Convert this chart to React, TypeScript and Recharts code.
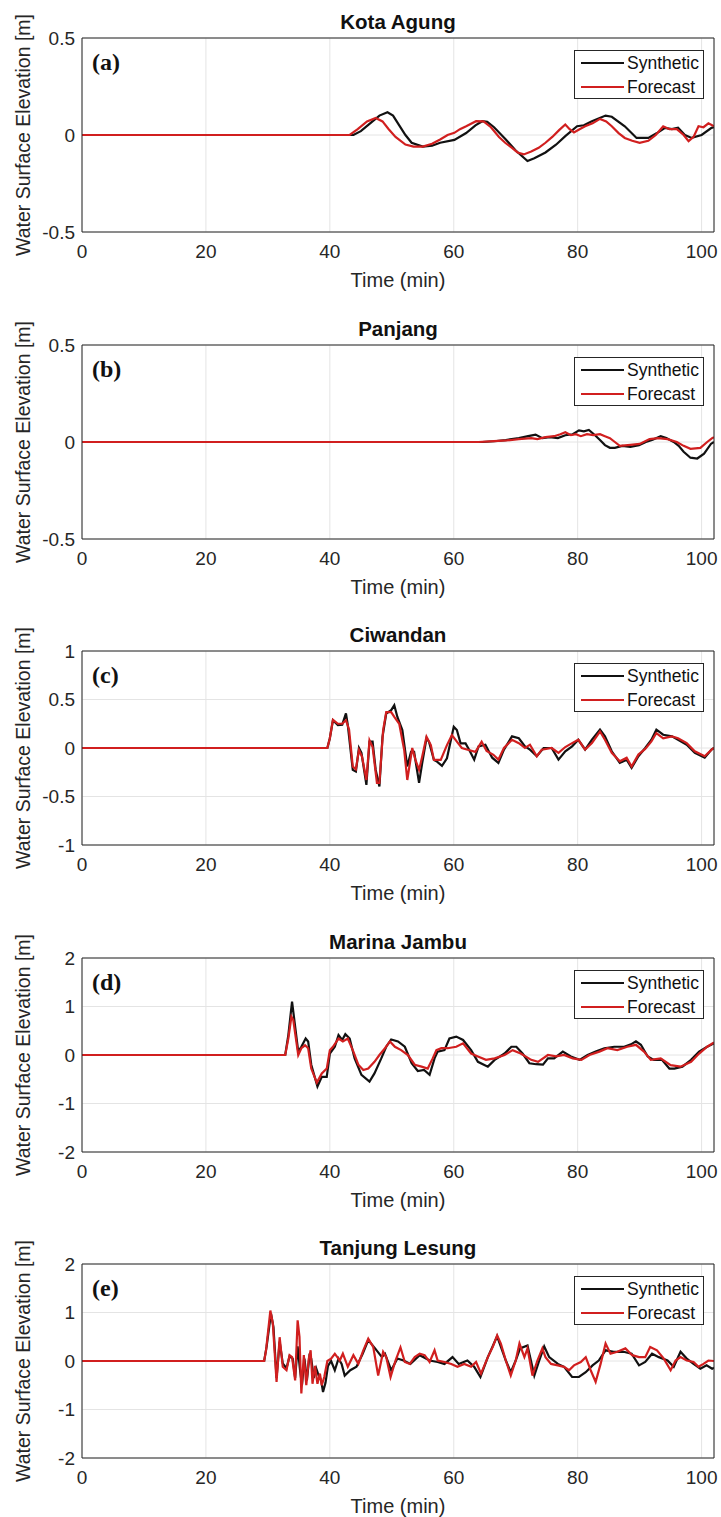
import { LineChart, Line, XAxis, YAxis, CartesianGrid } from "recharts";

// [time (min), elevation (m)] pairs
type Pt = [number, number];

const kotaAgungSynthetic: Pt[] = [
  [0, 0], [43.8, 0], [45, 0.02], [46.5, 0.06], [48, 0.1], [49.3, 0.117], [50.2, 0.1], [51.2, 0.05],
  [52.2, 0], [53.2, -0.04], [55, -0.06], [56.5, -0.055], [57.8, -0.04], [60.1, -0.025], [62, 0.01],
  [63.5, 0.05], [64.6, 0.071], [65.4, 0.068], [66.5, 0.04], [68.4, -0.023], [70, -0.08], [71.9, -0.134],
  [73, -0.12], [74.8, -0.09], [76.5, -0.05], [78, -0.006], [79.9, 0.045], [81, 0.05], [82.3, 0.071],
  [84.5, 0.1], [85.5, 0.094], [87.6, 0.045], [89.5, -0.015], [91.4, -0.015], [92.8, 0.01], [94.1, 0.037],
  [95.2, 0.03], [96.2, 0.037], [97.3, 0], [98.4, -0.015], [100, 0], [101.6, 0.037], [102, 0.04],
];
const kotaAgungForecast: Pt[] = [
  [0, 0], [43.2, 0], [44.5, 0.03], [46, 0.07], [47.4, 0.088], [48.5, 0.07], [49.5, 0.03], [50.6, -0.01],
  [52.2, -0.049], [53.5, -0.06], [55, -0.06], [56.5, -0.045], [57.8, -0.023], [59, 0], [60.1, 0.011],
  [61, 0.03], [62, 0.045], [63.6, 0.071], [64.8, 0.07], [66, 0.04], [67.3, -0.01], [68.3, -0.04],
  [69.4, -0.066], [70.3, -0.09], [71.3, -0.1], [72.5, -0.085], [73.7, -0.066], [74.8, -0.04], [75.9, -0.01],
  [77, 0.025], [78, 0.054], [78.7, 0.03], [79.4, 0.013], [80.3, 0.03], [81.2, 0.045], [82.4, 0.06],
  [83.6, 0.083], [84.6, 0.07], [85.5, 0.045], [86.6, 0.01], [87.6, -0.015], [88.8, -0.03], [90, -0.04],
  [91.4, -0.03], [92.6, 0], [93.8, 0.045], [94.8, 0.03], [96, 0.03], [97.1, 0], [97.9, -0.032],
  [98.7, -0.01], [99.5, 0.045], [100.3, 0.04], [101.1, 0.06], [102, 0.045],
];

const panjangSynthetic: Pt[] = [
  [0, 0], [64.6, 0], [66.5, 0.004], [68.4, 0.01], [70.5, 0.02], [72, 0.03], [73.2, 0.038], [74.3, 0.02],
  [75.5, 0.025], [76.8, 0.02], [78, 0.035], [79.2, 0.04], [80.2, 0.06], [81, 0.055], [81.8, 0.062],
  [82.8, 0.035], [83.6, 0.01], [84.4, -0.016], [85.2, -0.03], [86, -0.03], [87.2, -0.02], [88.5, -0.025],
  [89.9, -0.016], [91, 0], [92, 0.01], [93.4, 0.03], [94.3, 0.02], [95.5, 0], [96.3, -0.02], [97.1, -0.05],
  [98.2, -0.081], [99.3, -0.085], [100.4, -0.06], [101.5, -0.01], [102, 0],
];
const panjangForecast: Pt[] = [
  [0, 0], [64, 0], [66.5, 0.005], [68.5, 0.008], [70.5, 0.015], [72.5, 0.02], [73.5, 0.015], [74.8, 0.025],
  [76.2, 0.03], [77.2, 0.04], [78, 0.05], [78.9, 0.035], [79.7, 0.04], [80.5, 0.03], [81.5, 0.04],
  [82.5, 0.035], [83.6, 0.04], [84.4, 0.03], [85.2, 0.02], [86, 0], [86.8, -0.02], [88.5, -0.015],
  [90, -0.01], [91.6, 0.015], [93, 0.02], [94.5, 0.015], [96, 0], [97.1, -0.02], [98.2, -0.035],
  [99.8, -0.03], [100.9, 0], [101.7, 0.02], [102, 0.025],
];

const ciwandanSynthetic: Pt[] = [
  [0, 0], [39.6, 0], [40, 0.1], [40.5, 0.287], [41.3, 0.236], [42, 0.24], [42.6, 0.356], [42.9, 0.236],
  [43.7, -0.226], [44.2, -0.243], [44.7, 0], [45.1, -0.05], [45.9, -0.38], [46.4, 0.065], [46.9, 0.065],
  [47.4, -0.226], [48, -0.397], [48.5, 0.116], [49.1, 0.356], [49.9, 0.39], [50.4, 0.44], [50.9, 0.32],
  [51.7, 0.185], [52.5, -0.19], [53.1, -0.04], [53.6, -0.04], [54.4, -0.36], [54.9, -0.157], [55.6, 0.1],
  [56, 0.065], [56.8, -0.123], [57.3, -0.14], [58.1, -0.185], [58.9, -0.106], [60, 0.219], [60.5, 0.185],
  [61.1, 0.048], [61.9, 0.048], [62.5, -0.02], [63.3, -0.12], [64, 0.017], [65.1, 0.034], [66.2, -0.1],
  [67.2, -0.154], [68.1, -0.017], [69.4, 0.12], [70.5, 0.1], [71.5, 0.017], [72.3, -0.017], [73.4, -0.085],
  [74.5, 0], [75.8, 0], [76.9, -0.12], [78, -0.034], [79.1, 0.017], [80.1, 0.085], [81.2, -0.017],
  [82.3, 0.085], [83.6, 0.19], [84.4, 0.12], [85.5, -0.034], [86.8, -0.154], [87.9, -0.12], [88.7, -0.205],
  [89.8, -0.085], [90.9, 0], [91.9, 0.085], [92.7, 0.19], [93.8, 0.137], [95.2, 0.12], [96.2, 0.085],
  [97.6, 0.034], [98.9, -0.05], [100.5, -0.1], [101.6, -0.017], [102, 0],
];
const ciwandanForecast: Pt[] = [
  [0, 0], [39.6, 0], [40, 0.1], [40.5, 0.29], [41.3, 0.25], [42, 0.25], [42.6, 0.287], [43.1, 0.19],
  [43.7, -0.19], [44.2, -0.22], [44.7, -0.02], [45.2, -0.09], [45.9, -0.33], [46.4, 0.08], [46.9, 0.01],
  [47.6, -0.36], [48, -0.36], [48.6, 0.185], [49.1, 0.37], [49.9, 0.37], [50.4, 0.32], [51.2, 0.25],
  [52, -0.02], [52.5, -0.33], [53.3, 0], [53.8, -0.12], [54.4, -0.226], [54.9, -0.09], [55.6, 0.116],
  [56.3, 0.03], [56.8, -0.123], [57.9, -0.123], [58.9, 0.03], [59.7, 0.133], [60.5, 0.065], [61.3, 0],
  [62.4, -0.02], [63.5, -0.04], [64.5, 0.065], [65.3, -0.03], [66.4, -0.07], [67.2, -0.12], [68.1, 0],
  [69.4, 0.085], [70.5, 0.05], [71.5, 0], [72.3, 0.034], [73.4, -0.085], [74.2, -0.017], [75.8, 0],
  [76.9, -0.05], [78, 0.01], [79.1, 0.05], [80.1, 0.085], [81.2, -0.017], [82.3, 0.05], [83.6, 0.17],
  [84.4, 0.085], [85.5, -0.05], [86.8, -0.137], [87.9, -0.1], [88.7, -0.19], [89.8, -0.068], [90.9, -0.01],
  [91.9, 0.068], [92.7, 0.154], [93.8, 0.1], [95.2, 0.12], [96.2, 0.1], [97.6, 0.05], [98.9, -0.034],
  [100.5, -0.085], [101.6, -0.017], [102, 0],
];

const marinaJambuSynthetic: Pt[] = [
  [0, 0], [32.8, 0], [33.3, 0.41], [33.9, 1.1], [34.3, 0.69], [34.9, 0.07], [35.4, 0.17], [36.1, 0.34],
  [36.5, 0.28], [37, -0.2], [38, -0.65], [38.7, -0.45], [39.5, -0.45], [40, 0.03], [40.8, 0.17],
  [41.4, 0.41], [42, 0.31], [42.5, 0.43], [43.2, 0.34], [44, -0.07], [45.1, -0.41], [46.4, -0.55],
  [47.2, -0.38], [48.3, -0.07], [49.1, 0.17], [49.9, 0.32], [51, 0.28], [52.1, 0.17], [53.2, -0.17],
  [54.2, -0.33], [55.2, -0.31], [56.1, -0.41], [56.9, -0.07], [57.4, 0.07], [58.5, 0.1], [59.3, 0.34],
  [60.4, 0.38], [61.5, 0.31], [62.8, 0.1], [63.9, -0.14], [65.5, -0.24], [66.6, -0.1], [68.2, 0.03],
  [69.3, 0.17], [70.1, 0.17], [71.1, 0.03], [72.2, -0.17], [73.3, -0.19], [74.4, -0.2], [75.2, -0.07],
  [76.2, -0.07], [77.6, 0.07], [78.9, -0.03], [80.3, -0.1], [81.6, 0], [82.9, 0.07], [84.3, 0.14],
  [85.9, 0.17], [87.5, 0.17], [88.6, 0.22], [89.4, 0.28], [90.2, 0.21], [91.3, -0.03], [92.3, -0.1],
  [93.6, -0.1], [94.8, -0.28], [95.6, -0.28], [96.9, -0.24], [98.3, -0.1], [99.6, 0.07], [100.9, 0.17],
  [102, 0.24],
];
const marinaJambuForecast: Pt[] = [
  [0, 0], [32.8, 0], [33.3, 0.34], [33.8, 0.79], [34.1, 0.72], [34.9, 0], [35.4, 0.14], [36, 0.2],
  [36.5, 0.14], [37, -0.28], [37.9, -0.57], [38.7, -0.38], [39.5, -0.28], [40, 0.1], [40.5, 0.17],
  [41.4, 0.34], [42.1, 0.28], [42.9, 0.34], [43.8, 0.07], [44.6, -0.2], [45.4, -0.31], [46.2, -0.28],
  [47.2, -0.14], [48, 0], [48.9, 0.14], [49.7, 0.28], [50.5, 0.17], [51.5, 0.1], [52.6, 0], [53.7, -0.2],
  [54.8, -0.24], [55.8, -0.28], [56.6, -0.07], [57.2, 0.1], [58, 0.14], [59, 0.14], [60.4, 0.17],
  [61.5, 0.24], [62.8, 0.03], [63.9, -0.03], [65.2, -0.1], [66.6, -0.07], [68.2, 0], [69.5, 0.1],
  [70.8, 0.03], [72.5, -0.1], [73.6, -0.14], [75.2, 0], [76.5, -0.03], [77.8, 0], [79.2, -0.07],
  [80.6, -0.1], [81.9, 0], [83.5, 0.07], [84.8, 0.14], [86.4, 0.1], [88, 0.17], [89.4, 0.21], [90.7, 0.07],
  [91.8, -0.1], [93.4, -0.07], [95, -0.21], [96.6, -0.24], [98.3, -0.14], [99.6, 0.03], [100.9, 0.17],
  [102, 0.26],
];

const tanjungLesungSynthetic: Pt[] = [
  [0, 0], [29.4, 0], [29.8, 0.3], [30.5, 0.98], [30.9, 0.7], [31.4, -0.35], [31.9, 0.4], [32.4, -0.05],
  [33, -0.15], [33.5, 0.1], [34, 0.05], [34.4, -0.35], [34.8, 0.3], [35.2, -0.2], [35.5, -0.5],
  [35.9, 0.05], [36.3, -0.4], [36.7, 0.1], [37, 0.05], [37.4, -0.35], [37.8, -0.15], [38.2, -0.3],
  [38.6, -0.4], [38.9, -0.64], [39.3, -0.45], [39.7, -0.1], [40.2, 0], [40.8, -0.19], [41.4, 0.05],
  [41.9, -0.06], [42.4, -0.3], [43.3, -0.19], [44.3, -0.12], [45.3, 0.15], [46.2, 0.43], [47.3, 0.26],
  [48.4, 0.08], [48.9, 0.15], [49.9, -0.19], [50.9, 0.05], [51.9, 0.01], [53, -0.06], [54.5, 0.12],
  [56.1, 0.01], [57.4, -0.02], [58.5, -0.06], [59.8, 0.08], [60.8, -0.06], [62.2, 0.01], [63.3, -0.12],
  [64.3, -0.33], [65.5, 0.08], [67, 0.51], [68.4, 0.01], [69.2, -0.23], [70, 0.01], [70.7, 0.26],
  [71.9, 0.32], [73, -0.3], [73.8, 0.01], [74.6, 0.3], [75.4, 0.08], [76.8, -0.06], [77.8, -0.12],
  [79.1, -0.33], [80.2, -0.33], [81.3, -0.23], [82.4, -0.09], [83.4, 0.01], [84.5, 0.22], [85.8, 0.19],
  [87.4, 0.19], [88.7, 0.15], [89.9, -0.09], [90.9, -0.02], [92, 0.15], [93.1, 0.08], [94.5, 0.01],
  [95.5, -0.12], [96.6, 0.19], [97.6, 0.05], [98.7, -0.06], [99.8, -0.16], [100.8, -0.09], [101.7, -0.16],
  [102, -0.14],
];
const tanjungLesungForecast: Pt[] = [
  [0, 0], [29.4, 0], [29.7, 0.22], [30.4, 1.04], [30.8, 0.77], [31.4, -0.43], [31.9, 0.49], [32.4, -0.12],
  [33, -0.19], [33.5, 0.12], [33.9, 0.08], [34.4, -0.4], [34.8, 0.84], [35.1, 0.5], [35.4, -0.67],
  [35.8, 0.12], [36.2, -0.5], [36.6, 0.05], [36.9, 0.22], [37.2, -0.47], [37.6, -0.1], [38, -0.47],
  [38.4, -0.26], [38.7, -0.5], [39.1, -0.33], [39.6, 0], [40.2, 0.05], [40.8, 0.15], [41.6, 0.01],
  [42.1, 0.15], [42.9, -0.12], [43.8, 0.12], [44.6, -0.06], [45.4, 0.22], [46.2, 0.46], [47, 0.29],
  [47.8, -0.3], [48.6, 0.19], [49.1, 0.08], [49.8, -0.33], [50.6, 0.01], [51.4, 0.28], [52.1, -0.02],
  [52.9, -0.06], [53.7, 0.08], [54.5, 0.15], [55.3, 0.12], [56.1, -0.02], [56.9, 0.22], [57.4, 0.01],
  [58.5, -0.02], [59.6, -0.06], [60.6, -0.12], [61.7, -0.06], [62.8, -0.12], [63.6, -0.02], [64.4, -0.26],
  [65.5, 0.08], [66.3, 0.29], [67, 0.53], [67.6, 0.36], [68.4, 0.01], [69.2, -0.3], [70, 0.01], [70.6, 0.36],
  [71.4, 0.08], [71.9, 0.26], [72.7, -0.3], [73.5, 0.01], [74.3, 0.26], [74.8, 0.08], [75.7, -0.06],
  [76.8, -0.09], [77.8, -0.12], [78.6, -0.19], [79.4, -0.09], [80.5, -0.02], [81.3, 0.08], [82.1, -0.19],
  [82.9, -0.43], [83.7, -0.06], [84.5, 0.36], [85.3, 0.15], [86.4, 0.19], [87.7, 0.26], [88.8, 0.12],
  [89.9, 0.08], [90.9, 0.08], [91.7, 0.29], [92.8, 0.22], [93.9, 0.05], [95, -0.19], [95.8, 0.01],
  [96.6, 0.08], [97.6, 0.01], [98.7, -0.02], [99.5, -0.12], [100.3, -0.06], [101.1, 0.01], [102, 0],
];

const timeTicks = [0, 20, 40, 60, 80, 100];
const ticksHalf = [-0.5, 0, 0.5];
const ticksOne = [-1, -0.5, 0, 0.5, 1];
const ticksTwo = [-2, -1, 0, 1, 2];

const stationNames = ["Kota Agung", "Panjang", "Ciwandan", "Marina Jambu", "Tanjung Lesung"];
const panelLetters = ["(a)", "(b)", "(c)", "(d)", "(e)"];

const panels = [
  { yMax: 0.5, yTicks: ticksHalf, synthetic: kotaAgungSynthetic, forecast: kotaAgungForecast },
  { yMax: 0.5, yTicks: ticksHalf, synthetic: panjangSynthetic, forecast: panjangForecast },
  { yMax: 1, yTicks: ticksOne, synthetic: ciwandanSynthetic, forecast: ciwandanForecast },
  { yMax: 2, yTicks: ticksTwo, synthetic: marinaJambuSynthetic, forecast: marinaJambuForecast },
  { yMax: 2, yTicks: ticksTwo, synthetic: tanjungLesungSynthetic, forecast: tanjungLesungForecast },
];

const SANS = '"Liberation Sans", Arial, sans-serif';
const AXIS_COLOR = "#262626";
const BLACK = "#111111";
const RED = "#d11f1f";

const W = 721;
const PANEL_H = 307;
const PITCH = 306.5;
const PLOT_TOP = 38;
const PLOT_H = 194;
const PLOT_LEFT = 82;
const PLOT_RIGHT = 714;

const toRows = (pts: Pt[]) => pts.map(([t, v]) => ({ t, v }));

function LegendBox() {
  const row = (label: string, color: string) => (
    <div style={{ display: "flex", alignItems: "center", height: 24 }}>
      <div style={{ width: 43, height: 2.5, background: color, marginLeft: 6, marginRight: 3 }} />
      <span>{label}</span>
    </div>
  );
  return (
    <div
      style={{
        position: "absolute",
        left: 574,
        top: PLOT_TOP + 12,
        width: 128,
        height: 47,
        border: `1px solid ${AXIS_COLOR}`,
        background: "#fff",
        fontFamily: SANS,
        fontSize: 17.5,
        color: "#111",
        lineHeight: "24px",
      }}
    >
      {row("Synthetic", BLACK)}
      {row("Forecast", RED)}
    </div>
  );
}

function StationPanel({ index }: { index: number }) {
  const p = panels[index];
  const top = Math.round(index * PITCH);
  return (
    <div style={{ position: "absolute", left: 0, top, width: W, height: PANEL_H }}>
      <LineChart
        width={W}
        height={PANEL_H}
        margin={{ top: PLOT_TOP, right: W - PLOT_RIGHT, bottom: PANEL_H - PLOT_TOP - PLOT_H - 30, left: PLOT_LEFT - 40 }}
      >
        <CartesianGrid stroke="#e4e4e4" strokeWidth={1} />
        <XAxis
          dataKey="t"
          type="number"
          domain={[0, 102]}
          ticks={timeTicks}
          allowDataOverflow
          height={30}
          tickLine={false}
          tickSize={0}
          tickMargin={13}
          axisLine={{ stroke: AXIS_COLOR }}
          tick={{ fill: AXIS_COLOR, fontSize: 19, fontFamily: SANS }}
        />
        <XAxis
          xAxisId="top"
          orientation="top"
          type="number"
          domain={[0, 102]}
          ticks={timeTicks}
          mirror
          tick={false}
          tickSize={5}
          tickLine={{ stroke: AXIS_COLOR }}
          axisLine={{ stroke: AXIS_COLOR }}
        />
        <YAxis
          type="number"
          domain={[-p.yMax, p.yMax]}
          ticks={p.yTicks}
          allowDataOverflow
          width={40}
          tickLine={false}
          tickSize={0}
          tickMargin={7}
          axisLine={{ stroke: AXIS_COLOR }}
          tick={{ fill: AXIS_COLOR, fontSize: 19, fontFamily: SANS }}
        />
        <YAxis
          yAxisId="right"
          orientation="right"
          type="number"
          domain={[-p.yMax, p.yMax]}
          ticks={p.yTicks}
          mirror
          tick={false}
          tickSize={5}
          tickLine={{ stroke: AXIS_COLOR }}
          axisLine={{ stroke: AXIS_COLOR }}
        />
        <Line
          data={toRows(p.synthetic)}
          dataKey="v"
          type="linear"
          stroke={BLACK}
          strokeWidth={2.2}
          dot={false}
          isAnimationActive={false}
        />
        <Line
          data={toRows(p.forecast)}
          dataKey="v"
          type="linear"
          stroke={RED}
          strokeWidth={2.2}
          dot={false}
          isAnimationActive={false}
        />
      </LineChart>

      {/* title */}
      <div
        style={{
          position: "absolute",
          left: PLOT_LEFT,
          width: PLOT_RIGHT - PLOT_LEFT,
          top: 11,
          textAlign: "center",
          fontFamily: SANS,
          fontWeight: "bold",
          fontSize: 20.5,
          lineHeight: "22px",
          color: "#111",
        }}
      >
        {stationNames[index]}
      </div>

      {/* panel letter */}
      <div
        style={{
          position: "absolute",
          left: 92,
          top: PLOT_TOP + 11,
          fontFamily: '"Liberation Serif", "Times New Roman", serif',
          fontWeight: "bold",
          fontSize: 24,
          lineHeight: "26px",
          color: "#111",
        }}
      >
        {panelLetters[index]}
      </div>

      {/* y axis label */}
      <div
        style={{
          position: "absolute",
          left: 23 - 150,
          top: PLOT_TOP + PLOT_H / 2 - 11,
          width: 300,
          height: 22,
          lineHeight: "22px",
          textAlign: "center",
          transform: "rotate(-90deg)",
          fontFamily: SANS,
          fontSize: 19.5,
          color: AXIS_COLOR,
          whiteSpace: "nowrap",
        }}
      >
        Water Surface Elevation [m]
      </div>

      {/* x axis label */}
      <div
        style={{
          position: "absolute",
          left: PLOT_LEFT,
          width: PLOT_RIGHT - PLOT_LEFT,
          top: PLOT_TOP + PLOT_H + 37,
          textAlign: "center",
          fontFamily: SANS,
          fontSize: 20,
          lineHeight: "22px",
          color: AXIS_COLOR,
        }}
      >
        Time (min)
      </div>

      <LegendBox />
    </div>
  );
}

export default function App() {
  return (
    <div style={{ position: "absolute", left: 0, top: 0, width: W, height: 1517, background: "#fff" }}>
      {panels.map((_, i) => (
        <StationPanel key={i} index={i} />
      ))}
    </div>
  );
}
